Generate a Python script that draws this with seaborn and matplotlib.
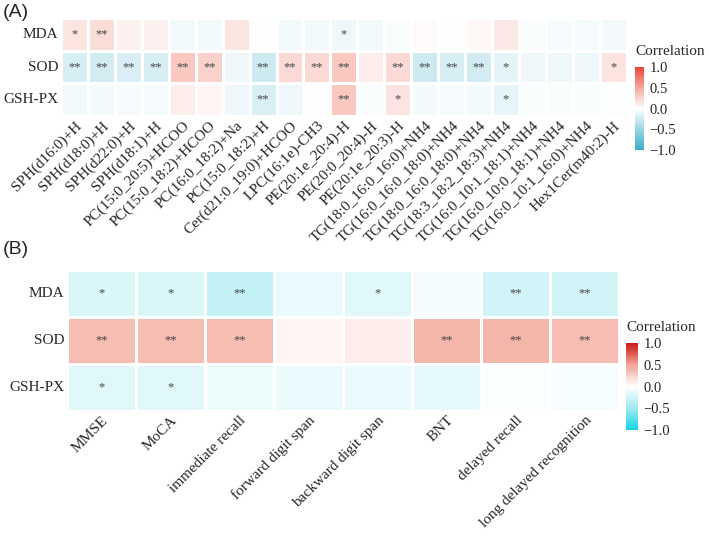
import numpy as np
import pandas as pd
import seaborn as sns
import matplotlib.pyplot as plt
from matplotlib.colors import LinearSegmentedColormap

# ---- data ----
rows = ['MDA', 'SOD', 'GSH-PX']

lipids = ['SPH(d16:0)+H', 'SPH(d18:0)+H', 'SPH(d22:0)+H', 'SPH(d18:1)+H',
          'PC(15:0_20:5)+HCOO', 'PC(15:0_18:2)+HCOO', 'PC(16:0_18:2)+Na',
          'PC(15:0_18:2)+H', 'Cer(d21:0_19:0)+HCOO', 'LPC(16:1e)-CH3',
          'PE(20:1e_20:4)-H', 'PE(20:0_20:4)-H', 'PE(20:1e_20:3)-H',
          'TG(18:0_16:0_16:0)+NH4', 'TG(16:0_16:0_18:0)+NH4', 'TG(18:0_16:0_18:0)+NH4',
          'TG(18:3_18:2_18:3)+NH4', 'TG(16:0_10:1_18:1)+NH4', 'TG(16:0_10:0_18:1)+NH4',
          'TG(16:0_10:1_16:0)+NH4', 'Hex1Cer(m40:2)-H']

mda_lipid = [0.15, 0.20, 0.08, 0.08, -0.07, -0.07, 0.15, 0.0, -0.06, -0.06, -0.08,
             -0.07, -0.03, 0.03, 0.0, 0.04, 0.13, -0.03, -0.04, -0.05, -0.07]
sod_lipid = [-0.20, -0.22, -0.18, -0.20, 0.32, 0.26, -0.08, -0.25, 0.22, 0.22, 0.32,
             0.10, 0.22, -0.25, -0.20, -0.22, -0.13, -0.08, -0.08, -0.08, 0.16]
gsh_lipid = [-0.07, -0.06, -0.05, -0.05, 0.10, 0.05, -0.08, -0.18, -0.08, 0.0, 0.32,
             -0.03, 0.16, -0.06, -0.05, -0.06, -0.12, -0.03, -0.03, -0.03, -0.02]

sig_mda_lipid = ['*', '**', '', '', '', '', '', '', '', '', '*',
                 '', '', '', '', '', '', '', '', '', '']
sig_sod_lipid = ['**', '**', '**', '**', '**', '**', '', '**', '**', '**', '**',
                 '', '**', '**', '**', '**', '*', '', '', '', '*']
sig_gsh_lipid = ['', '', '', '', '', '', '', '**', '', '', '**',
                 '', '*', '', '', '', '*', '', '', '', '']

tests = ['MMSE', 'MoCA', 'immediate recall', 'forward digit span',
         'backward digit span', 'BNT', 'delayed recall', 'long delayed recognition']

mda_cog = [-0.20, -0.20, -0.32, -0.12, -0.16, -0.06, -0.24, -0.24]
sod_cog = [0.36, 0.36, 0.36, 0.06, 0.10, 0.40, 0.40, 0.36]
gsh_cog = [-0.16, -0.16, -0.10, -0.11, -0.11, -0.13, -0.03, -0.05]

sig_mda_cog = ['*', '*', '**', '', '*', '', '**', '**']
sig_sod_cog = ['**', '**', '**', '', '', '**', '**', '**']
sig_gsh_cog = ['*', '*', '', '', '', '', '', '']

# ---- frames ----
df_a = pd.DataFrame([mda_lipid, sod_lipid, gsh_lipid], index=rows, columns=lipids)
sig_a = np.array([sig_mda_lipid, sig_sod_lipid, sig_gsh_lipid])
df_b = pd.DataFrame([mda_cog, sod_cog, gsh_cog], index=rows, columns=tests)
sig_b = np.array([sig_mda_cog, sig_sod_cog, sig_gsh_cog])

cmap_a = LinearSegmentedColormap.from_list(
    'a', [(0, '#3aaecb'), (0.25, '#9ad4e3'), (0.5, '#ffffff'), (0.75, '#f5aa9e'), (1, '#e8453a')])
cmap_b = LinearSegmentedColormap.from_list(
    'b', [(0, '#12d6e6'), (0.25, '#9fe9f1'), (0.5, '#ffffff'), (0.75, '#f2a596'), (1, '#c81717')])

sns.set_style('white')
plt.rcParams['font.family'] = ['Liberation Serif', 'DejaVu Serif']

fig = plt.figure(figsize=(7.09, 5.48), dpi=100)

ax_a = fig.add_axes([0.086, 0.788, 0.798, 0.179])
cax_a = fig.add_axes([0.896, 0.726, 0.012, 0.1515])
ax_b = fig.add_axes([0.0945, 0.25, 0.779, 0.257])
cax_b = fig.add_axes([0.883, 0.215, 0.017, 0.159])


def draw(df, sig, ax, cax, cmap):
    sns.heatmap(df, ax=ax, cbar_ax=cax, cmap=cmap, vmin=-1, vmax=1,
                annot=sig, fmt='', linewidths=1, linecolor='white',
                annot_kws={'color': '#444444', 'fontsize': 9})
    ax.tick_params(length=0, pad=2)
    ax.set_yticklabels(ax.get_yticklabels(), rotation=0, fontsize=11)
    ax.set_xticklabels(ax.get_xticklabels(), rotation=45, ha='right',
                       rotation_mode='anchor', fontsize=11)
    ax.set_xlabel('')
    ax.set_ylabel('')
    cb = ax.collections[0].colorbar
    cb.set_ticks([-1, -0.5, 0, 0.5, 1])
    cb.set_ticklabels(['\u22121.0', '\u22120.5', '0.0', '0.5', '1.0'])
    cb.outline.set_visible(False)
    cax.tick_params(length=3, width=0.8, color='white', direction='in',
                    labelsize=10.5, pad=4, left=True, right=True)
    cax.set_title('Correlation', fontsize=11, loc='left', pad=9)


draw(df_a, sig_a, ax_a, cax_a, cmap_a)
draw(df_b, sig_b, ax_b, cax_b, cmap_b)

fig.text(0.004, 0.992, '(A)', fontsize=14, family='Liberation Sans', va='top')
fig.text(0.004, 0.560, '(B)', fontsize=14, family='Liberation Sans', va='top')

fig.savefig('out.png', dpi=100)
